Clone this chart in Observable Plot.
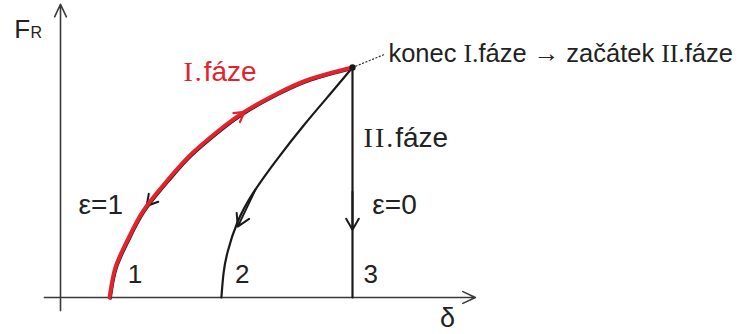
<!DOCTYPE html>
<html>
<head>
<meta charset="utf-8">
<script src="https://cdn.jsdelivr.net/npm/d3@7"></script>
<script src="https://cdn.jsdelivr.net/npm/@observablehq/plot@0.6"></script>
<style>
  html, body { margin: 0; padding: 0; background: #fff; }
</style>
</head>
<body>
<script>
// Phase I loading curve (curve 1, ε=1) — δ, F_R in relative units (peak = 10,10)
const phase1Delta = [1.68, 1.88, 2.29, 2.84, 3.66, 4.45, 5.38, 6.27, 7.43, 8.56, 10];
const phase1F     = [0,    1.30, 2.48, 3.78, 5.09, 6.20, 7.22, 8.05, 8.87, 9.50, 10];
// Unloading curve 2
const curve2Delta = [10, 9.25, 8.32, 7.43, 6.61, 6.06, 5.72, 5.58, 5.51];
const curve2F     = [10, 8.87, 7.47, 6.03, 4.57, 3.27, 1.97, 1.02, 0];
// Unloading line 3 (ε=0)
const curve3Delta = [10, 10];
const curve3F     = [10, 0];
// Direction arrows: tail -> tip
const arrowRedX1 = [5.38], arrowRedY1 = [7.22], arrowRedX2 = [6.30], arrowRedY2 = [8.07];
const arrowBlkX1 = [3.77, 6.68, 10],  arrowBlkY1 = [5.22, 4.70, 4.60];
const arrowBlkX2 = [2.95, 6.07, 10],  arrowBlkY2 = [3.98, 3.08, 2.95];
// Axes extents
const axisXExtent = [-0.55, 14.21];
const axisYExtent = [-0.57, 12.75];
// Leader line to annotation
const leaderDelta = [10, 11.1];
const leaderF     = [10, 10.57];
// Text labels
const labelText  = ["II.fáze", "ε=1", "ε=0"];
const labelDelta = [10.38, 0.62, 10.68];
const labelF     = [6.55, 3.65, 3.65];
const numText  = ["1", "2", "3"];
const numDelta = [2.30, 5.98, 10.38];
const numF     = [0.65, 0.65, 0.65];
const noteText = ["konec I.fáze → začátek II.fáze"], noteDelta = [11.23], noteF = [10.26];
const redLabel = ["I.fáze"], redLabelDelta = [4.21], redLabelF = [9.43];
const axisLabelY = ["F"], axisLabelYDelta = [-1.58], axisLabelYF = [11.3];
const axisLabelYSub = ["R"], axisLabelYSubDelta = [-1.03], axisLabelYSubF = [11.3];
const axisLabelX = ["δ"], axisLabelXDelta = [13.0], axisLabelXF = [-1.30];

const toRows = (xs, ys) => xs.map((x, i) => ({x, y: ys[i]}));
const mk = (ts, xs, ys) => ts.map((t, i) => ({t, x: xs[i], y: ys[i]}));
const phase1 = toRows(phase1Delta, phase1F);
const curve2 = toRows(curve2Delta, curve2F);
const curve3 = toRows(curve3Delta, curve3F);
const leader = toRows(leaderDelta, leaderF);
const redArrows = arrowRedX1.map((x, i) => ({x1: x, y1: arrowRedY1[i], x2: arrowRedX2[i], y2: arrowRedY2[i]}));
const blkArrows = arrowBlkX1.map((x, i) => ({x1: x, y1: arrowBlkY1[i], x2: arrowBlkX2[i], y2: arrowBlkY2[i]}));
const axes = [
  {x1: axisXExtent[0], y1: 0, x2: axisXExtent[1], y2: 0},
  {x1: 0, y1: axisYExtent[0], x2: 0, y2: axisYExtent[1]}
];

const RED = "#e3222b";
const INK = "#1a1a1a";
const TXT = "#222";
const SANS = "'Liberation Sans', Arial, sans-serif";
const txt = (data, size, fill = TXT) => Plot.text(data, {x: "x", y: "y", text: "t", textAnchor: "start", lineAnchor: "bottom", fontSize: size, fontFamily: SANS, fill});

const svg = Plot.plot({
  width: 738,
  height: 334,
  marginLeft: 60,
  marginRight: 386,
  marginTop: 67,
  marginBottom: 37,
  x: {domain: [0, 10], axis: null},
  y: {domain: [0, 10], axis: null},
  style: {background: "#fff", overflow: "visible"},
  marks: [
    Plot.arrow(axes, {x1: "x1", y1: "y1", x2: "x2", y2: "y2", stroke: "#3a3a3a", strokeWidth: 1.6, headLength: 13, headAngle: 50}),
    Plot.line(leader, {x: "x", y: "y", stroke: "#333", strokeWidth: 1.2, strokeDasharray: "1.2,2.4"}),
    Plot.line(curve3, {x: "x", y: "y", stroke: INK, strokeWidth: 2.2}),
    Plot.line(curve2, {x: "x", y: "y", stroke: INK, strokeWidth: 2.2, curve: "natural"}),
    Plot.line(phase1, {x: "x", y: "y", stroke: INK, strokeWidth: 2.5, curve: "natural", dx: 1, dy: 1}),
    Plot.arrow(blkArrows, {x1: "x1", y1: "y1", x2: "x2", y2: "y2", stroke: INK, strokeWidth: 2, headLength: 12, headAngle: 60}),
    Plot.line(phase1, {x: "x", y: "y", stroke: RED, strokeWidth: 4, curve: "natural"}),
    Plot.arrow(redArrows, {x1: "x1", y1: "y1", x2: "x2", y2: "y2", stroke: RED, strokeWidth: 2.2, headLength: 12, headAngle: 60}),
    Plot.dot([phase1[phase1.length - 1]], {x: "x", y: "y", r: 3.2, fill: INK}),
    txt(mk(labelText, labelDelta, labelF), 28),
    txt(mk(numText, numDelta, numF), 26),
    txt(mk(noteText, noteDelta, noteF), 25.5),
    txt(mk(redLabel, redLabelDelta, redLabelF), 28, RED),
    txt(mk(axisLabelY, axisLabelYDelta, axisLabelYF), 26),
    txt(mk(axisLabelYSub, axisLabelYSubDelta, axisLabelYSubF), 16),
    txt(mk(axisLabelX, axisLabelXDelta, axisLabelXF), 27)
  ]
});

// Roman numerals set in a serif face, as in the reference
d3.select(svg).selectAll("text").each(function () {
  if (this.children.length) return;
  const t = this.textContent;
  if (!/I+\./.test(t)) return;
  const size = parseFloat(this.closest("g").getAttribute("font-size")) || 0;
  const parts = t.split(/(I+\.)/).filter(s => s.length);
  this.textContent = "";
  for (const p of parts) {
    const ts = d3.select(this).append("tspan").text(p);
    if (/^I+\.$/.test(p)) {
      ts.attr("font-family", "'Liberation Serif', 'Times New Roman', serif");
      if (size >= 27) ts.attr("letter-spacing", "2");
    }
  }
});

document.body.appendChild(svg);
</script>
</body>
</html>
